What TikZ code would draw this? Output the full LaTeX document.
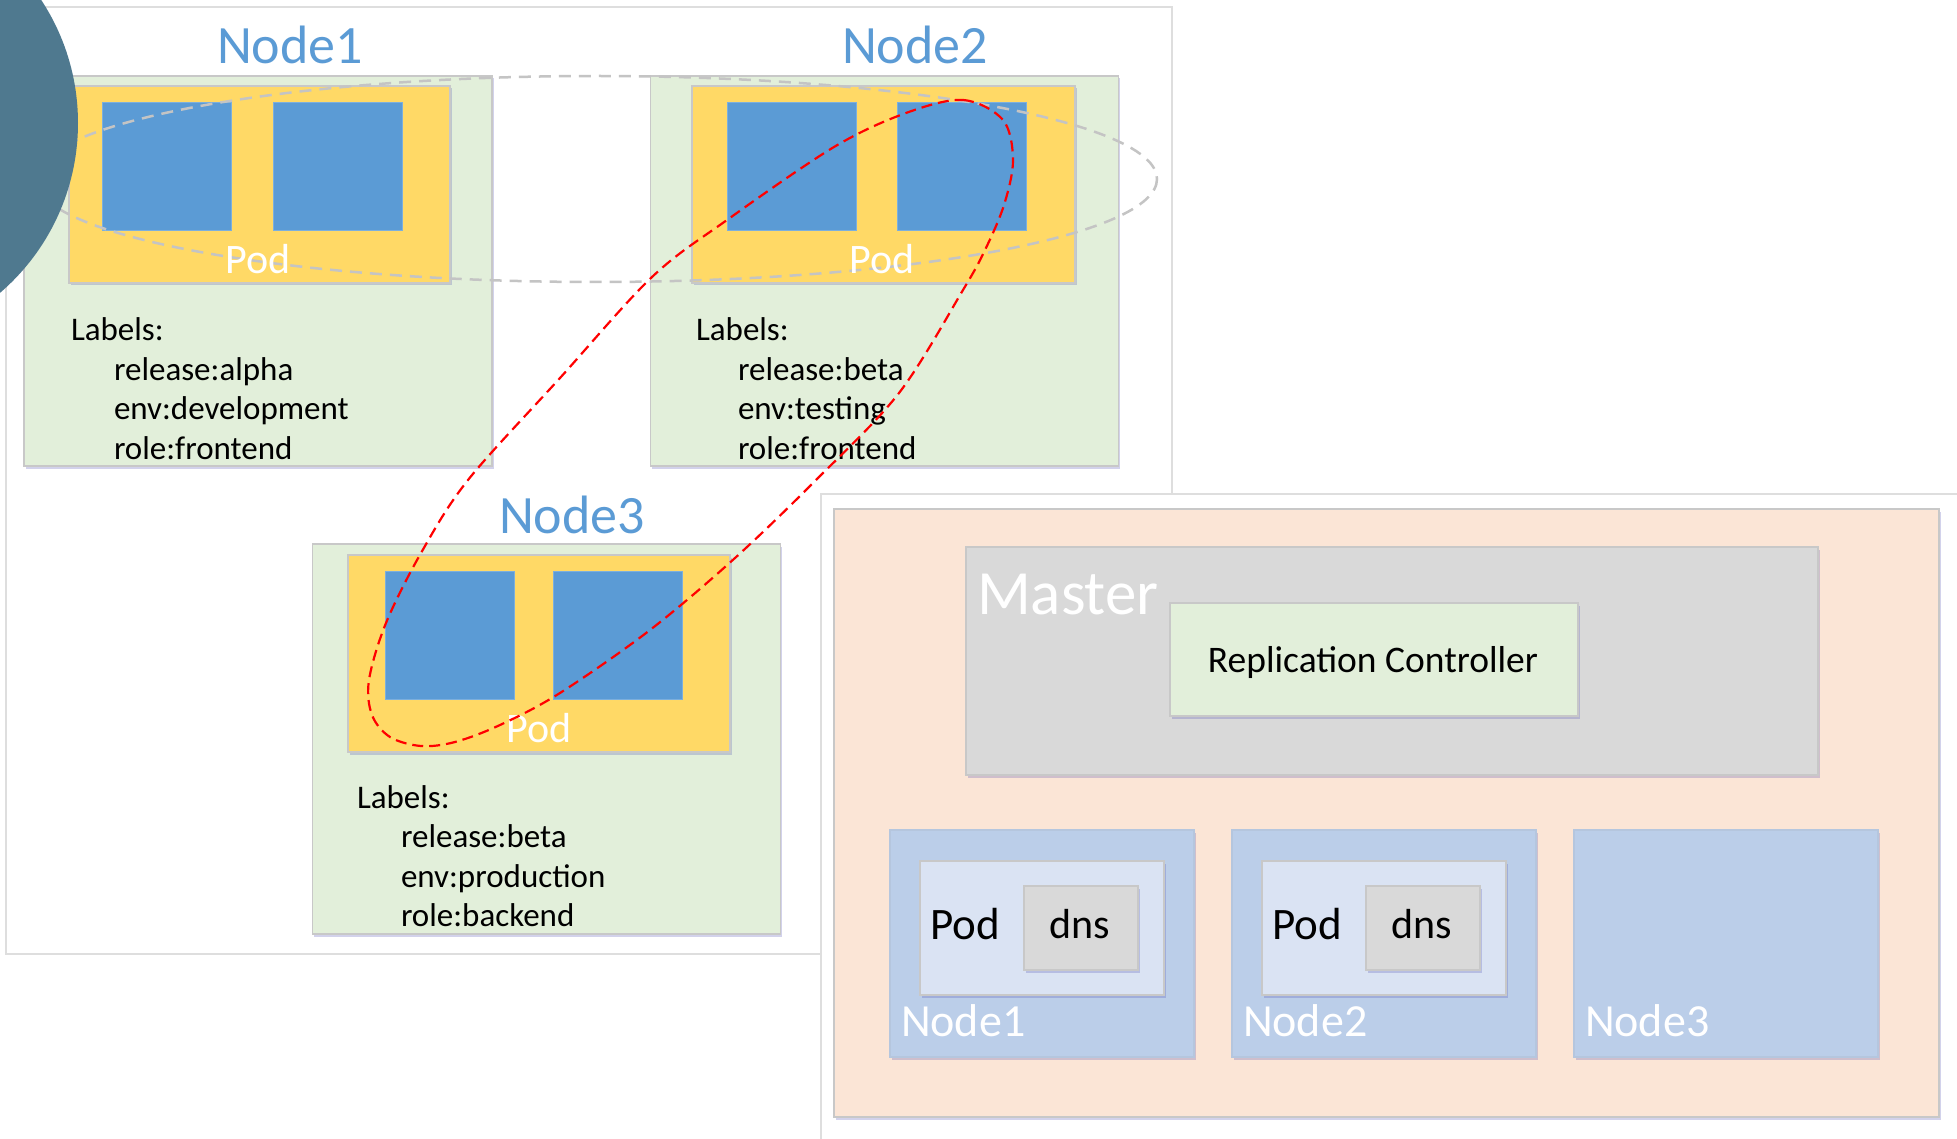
\documentclass[tikz,border=0pt]{standalone}
\usepackage{fontspec}
\setmainfont{Carlito}
\usetikzlibrary{shadows}
\definecolor{tblue}{HTML}{5B9BD5}
\definecolor{lgreen}{HTML}{E2EFDA}
\definecolor{pyellow}{HTML}{FFD966}
\definecolor{circteal}{RGB}{79,121,143}
\definecolor{salmonbg}{HTML}{FBE5D6}
\definecolor{mgray}{HTML}{D9D9D9}
\definecolor{nblue}{RGB}{187,206,233}
\definecolor{pblue}{HTML}{DAE3F3}
\definecolor{bord}{RGB}{200,200,200}
\definecolor{panelb}{RGB}{222,222,222}
\definecolor{dashg}{RGB}{196,196,196}
\newcommand\myfs[1]{\fontsize{#1}{#1}\selectfont}
\tikzset{
  box/.style={draw=bord, line width=1.2pt, inner sep=0pt, outer sep=0pt,
    drop shadow={shadow xshift=1.5pt, shadow yshift=-2.5pt, fill=blue!40!gray, opacity=0.25}},
  flatbox/.style={draw=bord, line width=1pt, inner sep=0pt, outer sep=0pt},
  panel/.style={draw=panelb, line width=2pt, fill=white},
  txt/.style={inner sep=0pt, outer sep=0pt, anchor=base west},
  ctxt/.style={inner sep=0pt, outer sep=0pt, anchor=base},
  title/.style={ctxt, text=tblue, font=\myfs{54}},
  podw/.style={ctxt, text=white, font=\myfs{42}},
  lab/.style={txt, text=black, font=\myfs{33}},
  greenbox/.style={box, fill=lgreen, minimum width=468pt, minimum height=390pt},
  yellowbox/.style={box, fill=pyellow, minimum height=197pt},
  bluesq/.style={flatbox, draw=tblue!80!white, fill=tblue, minimum width=129pt, minimum height=128pt},
  graydash/.style={draw=dashg, line width=2.5pt, dash pattern=on 12pt off 8pt},
  reddash/.style={draw=red, line width=2.2pt, dash pattern=on 11pt off 6pt},
}
\begin{document}
\begin{tikzpicture}[x=1pt, y=-1pt]
\useasboundingbox (0,0) rectangle (1957,1139);
\clip (0,0) rectangle (1957,1139);
\fill[white] (0,0) rectangle (1957,1139);

% left panel
\draw[panel] (6,7) rectangle (1172,954);

% Node1
\node[title] (t1) at (290,64) {Node1};
\node[greenbox] (n1) at (258,271) {};
\node[yellowbox, minimum width=381pt] (p1) at (259.5,184.5) {};
\node[bluesq] (b11) at (167,167) {};
\node[bluesq] (b12) at (337.5,167) {};
\node[lab] (l1a) at (71,341) {Labels:};
\node[lab] (l1b) at (114,380.5) {release:alpha};
\node[lab] (l1c) at (114,420) {env:development};
\node[lab] (l1d) at (114,459.5) {role:frontend};

% Node2
\node[title] (t2) at (915,64) {Node2};
\node[greenbox] (n2) at (884.5,271) {};
\node[yellowbox, minimum width=383pt] (p2) at (883.5,184.5) {};
\node[bluesq] (b21) at (791.5,167) {};
\node[bluesq] (b22) at (961.5,167) {};
\node[lab] (l2a) at (696,341) {Labels:};
\node[lab] (l2b) at (738,380.5) {release:beta};
\node[lab] (l2c) at (738,420) {env:testing};
\node[lab] (l2d) at (738,459.5) {role:frontend};

% Node3
\node[title] (t3) at (572,533) {Node3};
\node[greenbox] (n3) at (546.5,739) {};
\node[yellowbox, minimum width=382pt] (p3) at (539,653.5) {};
\node[bluesq] (b31) at (449.5,635.5) {};
\node[bluesq] (b32) at (617.5,635.5) {};
\node[lab] (l3a) at (357,808) {Labels:};
\node[lab] (l3b) at (401,847.5) {release:beta};
\node[lab] (l3c) at (401,887) {env:production};
\node[lab] (l3d) at (401,926) {role:backend};

% gray dashed ellipse
\draw[graydash] (596,179) ellipse [x radius=561, y radius=103];

% Pod labels
\node[podw] (pt1) at (258,274) {Pod};
\node[podw] (pt2) at (882,274) {Pod};
\node[podw] (pt3) at (539,742) {Pod};

% teal circle
\fill[circteal] (-146,123) circle [radius=224];

% red dashed loop
\draw[reddash] plot[smooth cycle, tension=0.55] coordinates {
 (906,113) (963,100) (1003,120) (1013,160) (1004,205) (985,250) (963,290)
 (899,393) (816,480) (735,558) (650,630) (560,693) (500,725)
 (455,742) (421,746) (390,737) (372,715) (369,680) (386,623) (421,553)
 (468,480) (560,378) (652,277) (727,220) (834,147)};

% right panel
\draw[panel] (821,494) rectangle (1975,1160);
\node[box, fill=salmonbg, minimum width=1105pt, minimum height=608pt] (cl) at (1386.5,813) {};
\node[box, fill=mgray, minimum width=852pt, minimum height=228pt] (ms) at (1392,661) {};
\node[txt, text=white, font=\myfs{63}] (mt) at (977,614) {Master};
\node[box, fill=lgreen, minimum width=408pt, minimum height=113pt] (rc) at (1374,659.5) {};
\node[ctxt, font=\myfs{37.5}] (rct) at (1373,672) {Replication Controller};

\tikzset{nbox/.style={box, fill=nblue, draw=nblue!90!gray, minimum width=304pt, minimum height=227pt},
  pbox/.style={box, fill=pblue, minimum width=244pt, minimum height=134pt},
  dbox/.style={box, fill=mgray, minimum width=114pt, minimum height=84pt},
  ptxt/.style={txt, font=\myfs{45}},
  dtxt/.style={ctxt, font=\myfs{42}},
  nwt/.style={txt, text=white, font=\myfs{46}}}

\node[nbox] (m1) at (1042,943.5) {};
\node[nbox] (m2) at (1384,943.5) {};
\node[nbox] (m3) at (1726,943.5) {};
\node[pbox] (q1) at (1042,928) {};
\node[pbox] (q2) at (1384,928) {};
\node[dbox] (d1) at (1081,928) {};
\node[dbox] (d2) at (1423,928) {};
\node[ptxt] (qt1) at (930,939) {Pod};
\node[ptxt] (qt2) at (1272,939) {Pod};
\node[dtxt] (dt1) at (1080,938) {dns};
\node[dtxt] (dt2) at (1422,938) {dns};
\node[nwt] (mt1) at (901,1036) {Node1};
\node[nwt] (mt2) at (1243,1036) {Node2};
\node[nwt] (mt3) at (1585,1036) {Node3};
\end{tikzpicture}
\end{document}
